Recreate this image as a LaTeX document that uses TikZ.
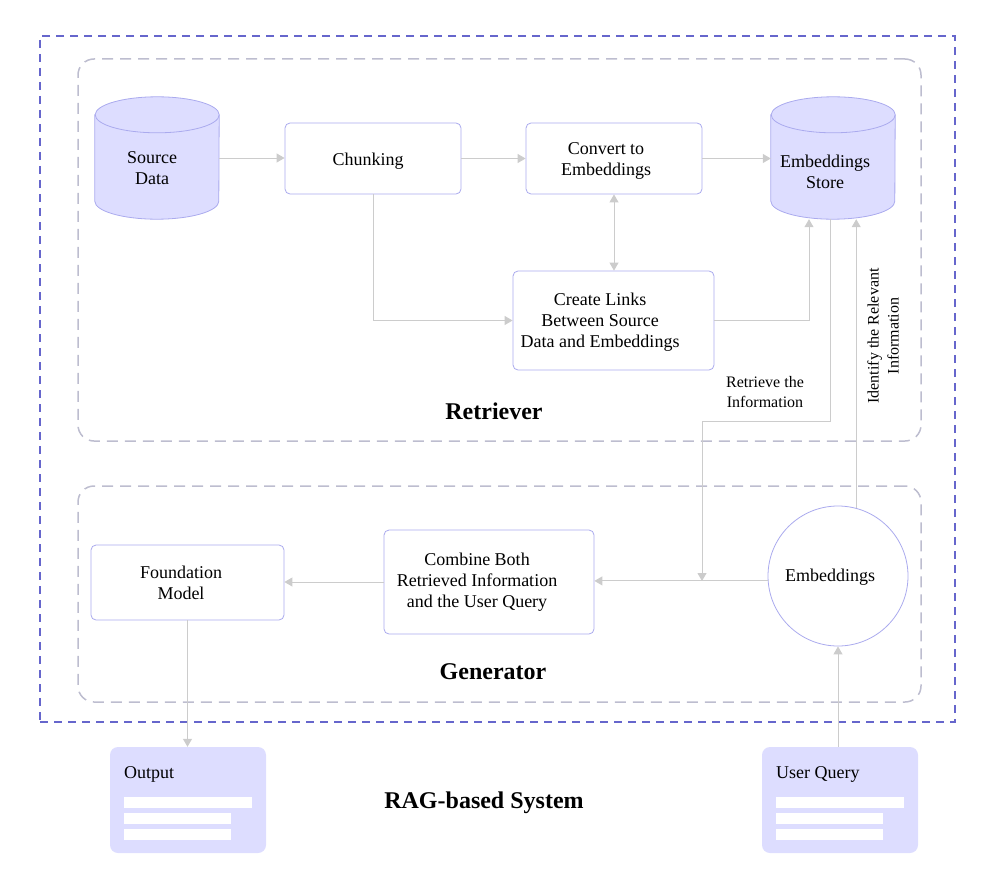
\documentclass[tikz,border=0pt]{standalone}
\usepackage{fontspec}
\setmainfont{Liberation Serif}
\usetikzlibrary{arrows.meta,calc}
\definecolor{outerc}{HTML}{6666CC}
\definecolor{grpc}{HTML}{BDBDCF}
\definecolor{fillc}{HTML}{DDDDFF}
\definecolor{strokec}{HTML}{AAAAEE}
\definecolor{arrc}{HTML}{CCCCCC}
\begin{document}
\begin{tikzpicture}[x=1pt,y=-1pt,
  box/.style={draw=strokec, fill=white, rounded corners=5pt, line width=0.8pt, inner sep=0},
  cyl/.style={minimum width=124pt, minimum height=122pt, inner sep=0},
  txt/.style={font=\fontsize{18}{21}\selectfont, align=center, inner sep=0},
  small/.style={font=\fontsize{16}{20}\selectfont, align=center, inner sep=0},
  title/.style={font=\bfseries\fontsize{24}{28}\selectfont, inner sep=0},
  arr/.style={draw=arrc, line width=1pt, -{Triangle[length=8pt,width=9pt]}},
  arrb/.style={draw=arrc, line width=1pt, {Triangle[length=8pt,width=9pt]}-{Triangle[length=8pt,width=9pt]}},
  grp/.style={draw=grpc, line width=1.5pt, rounded corners=16pt, dash pattern=on 11pt off 7pt, inner sep=0},
  card/.style={fill=fillc, rounded corners=8pt, inner sep=0, minimum width=156pt, minimum height=106pt},
  cylbody/.style={fill=fillc, draw=strokec, line width=0.8pt}
]
\useasboundingbox (0,0) rectangle (995,888);

% outer system boundary
\node[draw=outerc, line width=2pt, dash pattern=on 8pt off 6pt, minimum width=915pt, minimum height=686pt, inner sep=0] (sys) at (497.5,379) {};

% groups
\node[grp, minimum width=843pt, minimum height=382pt] (retr) at (499.5,250) {};
\node[grp, minimum width=843pt, minimum height=216pt] (gen) at (499.5,594) {};

% cylinders
\node[cyl] (src) at (157,158) {};
\node[cyl] (store) at (833,158) {};
\foreach \c in {src,store}{
  \filldraw[cylbody] ($(\c.north west)+(0,18)$) -- ($(\c.south west)+(0,-18)$)
     arc[start angle=180,end angle=360,x radius=62pt,y radius=18pt]
     -- ($(\c.north east)+(0,18)$)
     arc[start angle=0,end angle=180,x radius=62pt,y radius=18pt] -- cycle;
  \draw[draw=strokec, line width=0.8pt] ($(\c.north east)+(0,18)$)
     arc[start angle=0,end angle=-180,x radius=62pt,y radius=18pt];
}
\node[txt] (srct) at (152,168) {Source\\Data};
\node[txt] (storet) at (825,172) {Embeddings\\Store};

% boxes
\node[box, minimum width=176pt, minimum height=71pt] (chunk) at (373,158.5) {};
\node[txt] (chunkt) at (368,161) {Chunking};
\node[box, minimum width=176pt, minimum height=71pt] (conv) at (614,158.5) {};
\node[txt] (convt) at (606,161) {Convert to\\Embeddings};
\node[box, minimum width=201pt, minimum height=99pt] (link) at (613.5,320.5) {};
\node[txt] (linkt) at (600,322) {Create Links\\Between Source\\Data and Embeddings};

\node[box, minimum width=210pt, minimum height=104pt] (comb) at (489,582) {};
\node[txt] (combt) at (477,582) {Combine Both\\Retrieved Information\\and the User Query};
\node[box, minimum width=193pt, minimum height=75pt] (found) at (187.5,582.5) {};
\node[txt] (foundt) at (181,583) {Foundation\\Model};
\node[circle, draw=strokec, fill=white, line width=0.8pt, minimum size=140pt, inner sep=0] (emb) at (838,576) {};
\node[txt] (embt) at (830,577) {Embeddings};

% cards
\node[card] (outc) at (188,800) {};
\node[txt, anchor=west] (outt) at (124,774) {Output};
\fill[white] (124,797) rectangle (252,808);
\fill[white] (124,813) rectangle (231,824);
\fill[white] (124,829) rectangle (231,840);
\node[card] (uq) at (840,800) {};
\node[txt, anchor=west] (uqt) at (776,774) {User Query};
\fill[white] (776,797) rectangle (904,808);
\fill[white] (776,813) rectangle (883,824);
\fill[white] (776,829) rectangle (883,840);

% titles
\node[title] (rett) at (494,411) {Retriever};
\node[title] (gent) at (493,672) {Generator};
\node[title] (ragt) at (484,803) {RAG-based System};

% connectors
\draw[arr] (src.east) -- (src.east -| chunk.west);
\draw[arr] (chunk.east) -- (chunk.east -| conv.west);
\draw[arr] (conv.east) -- (conv.east -| store.west);
\draw[arrb] (conv.south) -- (conv.south |- link.north);
\draw[arr] (chunk.south) |- (link.west);
\draw[arr] (link.east) -| ($(store.south)+(-24,0)$);
\coordinate (retend) at (702,581);
\draw[arr] ($(store.south)+(-3,0)$) -- ++(0,202) -| (retend);
\node[small] (rett2) at (765,392) {Retrieve the\\Information};
\draw[arr] (emb.75) -- (emb.75 |- store.south);
\node[small, rotate=90] (idt) at (883,336) {Identify the Relevant\\Information};
\draw[arr] (emb.184) -- (emb.184 -| comb.east);
\draw[arr] (comb.west) -- (comb.west -| found.east);
\draw[arr] (found.south) -- (found.south |- outc.north);
\draw[arr] (emb.south |- uq.north) -- (emb.south);
\end{tikzpicture}
\end{document}
